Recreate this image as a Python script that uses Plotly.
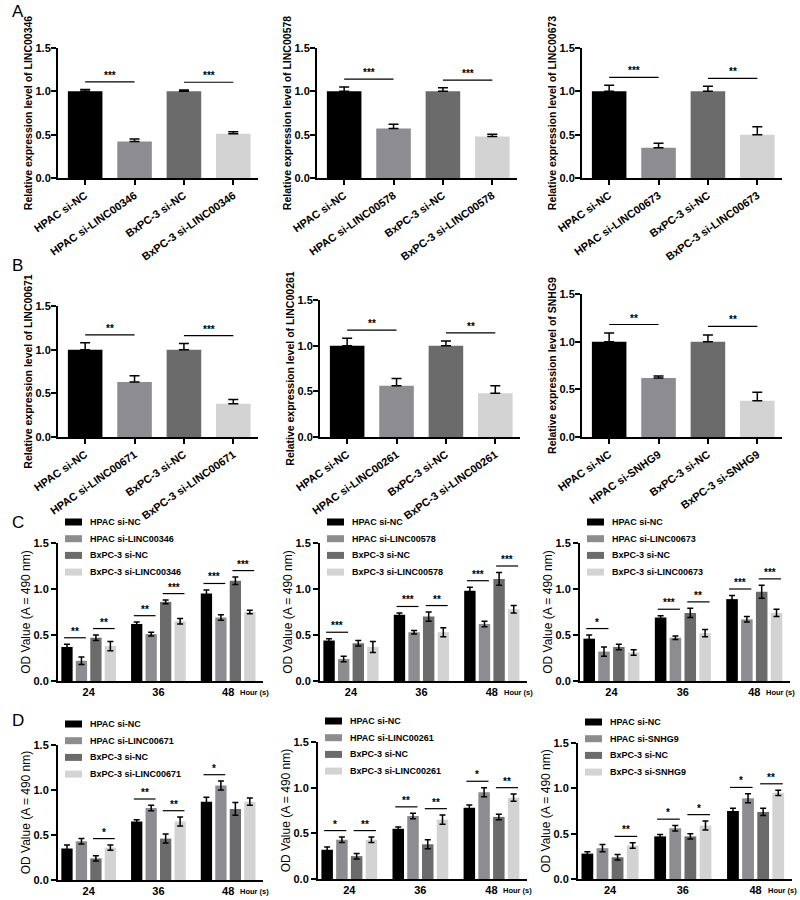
import plotly.graph_objects as go

W, H = 800, 900
FONT = "Arial, Liberation Sans, sans-serif"

# ---------------- data ----------------
genes = ["LINC00346", "LINC00578", "LINC00673", "LINC00671", "LINC00261", "SNHG9"]
colors = ["#000000", "#8d8d91", "#6b6b6b", "#d3d3d3"]
hours = ["24", "36", "48"]

# Panels A/B: qRT-PCR knockdown (HPAC si-NC, HPAC si-X, BxPC-3 si-NC, BxPC-3 si-X)
ab_means = [
    [1.00, 0.42, 1.00, 0.51],
    [1.00, 0.57, 1.00, 0.48],
    [1.00, 0.35, 1.00, 0.50],
    [1.00, 0.63, 1.00, 0.38],
    [1.00, 0.56, 1.00, 0.48],
    [1.00, 0.62, 1.00, 0.38],
]
ab_errs = [
    [0.02, 0.03, 0.015, 0.025],
    [0.05, 0.05, 0.04, 0.025],
    [0.07, 0.05, 0.06, 0.09],
    [0.08, 0.07, 0.07, 0.05],
    [0.08, 0.08, 0.05, 0.08],
    [0.09, 0.02, 0.07, 0.09],
]
ab_stars = [
    ["***", "***"],
    ["***", "***"],
    ["***", "**"],
    ["**", "***"],
    ["**", "**"],
    ["**", "**"],
]

# Panels C/D: OD values, per panel 4 series x 3 time points
cd_means = [
    [[0.37, 0.62, 0.95], [0.22, 0.51, 0.69], [0.47, 0.86, 1.09], [0.38, 0.65, 0.75]],
    [[0.44, 0.72, 0.98], [0.24, 0.53, 0.62], [0.41, 0.70, 1.11], [0.37, 0.53, 0.78]],
    [[0.46, 0.69, 0.89], [0.32, 0.47, 0.67], [0.37, 0.74, 0.97], [0.31, 0.52, 0.74]],
    [[0.35, 0.65, 0.87], [0.43, 0.80, 1.05], [0.24, 0.46, 0.79], [0.36, 0.65, 0.87]],
    [[0.32, 0.55, 0.78], [0.43, 0.69, 0.95], [0.25, 0.38, 0.68], [0.43, 0.65, 0.89]],
    [[0.28, 0.47, 0.75], [0.34, 0.56, 0.89], [0.24, 0.47, 0.74], [0.37, 0.59, 0.95]],
]
cd_errs = [
    [[0.03, 0.02, 0.04], [0.04, 0.02, 0.03], [0.03, 0.02, 0.04], [0.05, 0.03, 0.02]],
    [[0.02, 0.02, 0.04], [0.03, 0.02, 0.03], [0.03, 0.05, 0.07], [0.06, 0.05, 0.04]],
    [[0.04, 0.02, 0.04], [0.05, 0.02, 0.03], [0.03, 0.05, 0.07], [0.03, 0.04, 0.04]],
    [[0.04, 0.02, 0.05], [0.03, 0.03, 0.05], [0.03, 0.05, 0.07], [0.03, 0.05, 0.04]],
    [[0.03, 0.02, 0.03], [0.03, 0.03, 0.05], [0.03, 0.05, 0.03], [0.03, 0.05, 0.04]],
    [[0.02, 0.02, 0.03], [0.04, 0.03, 0.05], [0.03, 0.03, 0.04], [0.03, 0.05, 0.03]],
]
# (time index, bar a, bar b, stars)
cd_sig = [
    [(0, 0, 1, "**"), (0, 2, 3, "**"), (1, 0, 1, "**"), (1, 2, 3, "***"), (2, 0, 1, "***"), (2, 2, 3, "***")],
    [(0, 0, 1, "***"), (1, 0, 1, "***"), (1, 2, 3, "**"), (2, 0, 1, "***"), (2, 2, 3, "***")],
    [(0, 0, 1, "*"), (1, 0, 1, "***"), (1, 2, 3, "**"), (2, 0, 1, "***"), (2, 2, 3, "***")],
    [(0, 2, 3, "*"), (1, 0, 1, "**"), (1, 2, 3, "**"), (2, 0, 1, "*")],
    [(0, 0, 1, "*"), (0, 2, 3, "**"), (1, 0, 1, "**"), (1, 2, 3, "**"), (2, 0, 1, "*"), (2, 2, 3, "**")],
    [(0, 2, 3, "**"), (1, 0, 1, "*"), (1, 2, 3, "*"), (2, 0, 1, "*"), (2, 2, 3, "**")],
]

# ---------------- layout geometry (pixels) ----------------
# (left x, top y, bottom y, width)
geo_ab = [
    (58, 48, 178, 200), (317, 48, 178, 200), (582, 48, 178, 200),
    (58, 306, 437, 200), (320, 300, 437, 200), (582, 294, 437, 200),
]
geo_cd = [
    (58, 543, 681, 205), (320, 543, 681, 207), (580, 543, 681, 210),
    (58, 745, 880, 205), (318, 742, 879, 209), (578, 743, 879, 214),
]
BARGAP = 0.17
SLOT = (1 - BARGAP) / 4

fig = go.Figure()
layout = dict(
    width=W, height=H, margin=dict(l=0, r=0, t=0, b=0, autoexpand=False),
    paper_bgcolor="white", plot_bgcolor="white",
    font=dict(family=FONT, color="black"),
    barmode="group", bargap=BARGAP, bargroupgap=0.22,
    showlegend=False,
)
shapes, annots = [], []


def dom(x0, ytop, ybot, w):
    return [x0 / W, (x0 + w) / W], [1 - ybot / H, 1 - ytop / H]


def axis_common():
    return dict(showline=True, linecolor="black", linewidth=2, ticks="outside",
                ticklen=5, tickwidth=1.5, tickcolor="black", showgrid=False,
                zeroline=False, automargin=False,
                tickfont=dict(size=11, weight="bold", family=FONT))


ax = 0
# A/B panels
for p in range(6):
    ax += 1
    xa, ya = ("x" if ax == 1 else f"x{ax}"), ("y" if ax == 1 else f"y{ax}")
    xd, yd = dom(*geo_ab[p])
    g = genes[p]
    labels = ["HPAC si-NC", f"HPAC si-{g}", "BxPC-3 si-NC", f"BxPC-3 si-{g}"]
    fig.add_trace(go.Bar(
        x=list(range(4)), y=ab_means[p], width=0.7, marker=dict(color=colors, line=dict(width=0)),
        error_y=dict(type="data", array=ab_errs[p], arrayminus=[0] * 4, color="black",
                     thickness=1.5, width=5),
        xaxis=xa, yaxis=ya, showlegend=False))
    xk = dict(axis_common(), domain=xd, anchor=ya, range=[-0.55, 3.5],
              tickvals=list(range(4)), ticktext=labels, tickangle=-35)
    yk = dict(axis_common(), domain=yd, anchor=xa, range=[0, 1.5], tickvals=[0, 0.5, 1.0, 1.5],
              tickformat=".1f", ticklabelstandoff=-2,
              title=dict(text=f"Relative expression level of {g}", standoff=1,
                         font=dict(size=10.5, weight="bold", family=FONT)))
    layout["xaxis" if ax == 1 else f"xaxis{ax}"] = xk
    layout["yaxis" if ax == 1 else f"yaxis{ax}"] = yk
    for k, (a, b) in enumerate([(0, 1), (2, 3)]):
        top = max(ab_means[p][a] + ab_errs[p][a], ab_means[p][b] + ab_errs[p][b])
        yl = top + 0.09
        shapes.append(dict(type="line", xref=xa, yref=ya, x0=a, x1=b, y0=yl, y1=yl,
                           line=dict(color="black", width=1.2)))
        annots.append(dict(xref=xa, yref=ya, x=(a + b) / 2, y=yl, text=ab_stars[p][k],
                           showarrow=False, yanchor="bottom", yshift=-1,
                           font=dict(size=10, weight="bold", family=FONT)))

# C/D panels
for p in range(6):
    ax += 1
    xa, ya = f"x{ax}", f"y{ax}"
    xd, yd = dom(*geo_cd[p])
    g = genes[p]
    names = ["HPAC si-NC", f"HPAC si-{g}", "BxPC-3 si-NC", f"BxPC-3 si-{g}"]
    for s in range(4):
        fig.add_trace(go.Bar(
            x=[0, 1, 2], y=cd_means[p][s], name=names[s],
            marker=dict(color=colors[s], line=dict(width=0)),
            error_y=dict(type="data", array=cd_errs[p][s], color="black", thickness=1.5, width=3),
            xaxis=xa, yaxis=ya, offsetgroup=str(s), showlegend=False))
    xk = dict(axis_common(), domain=xd, anchor=ya, range=[-0.44, 2.5],
              tickvals=[0, 1, 2], ticktext=hours, ticks="")
    yk = dict(axis_common(), domain=yd, anchor=xa, range=[0, 1.5], tickvals=[0, 0.5, 1.0, 1.5],
              tickformat=".1f",
              title=dict(text="OD Value (A = 490 nm)", standoff=0,
                         font=dict(size=12, family=FONT)))
    layout[f"xaxis{ax}"] = xk
    layout[f"yaxis{ax}"] = yk
    # legend block (key swatches + labels) above each panel
    x0px, ytop, ybot, w = geo_cd[p]
    for s in range(4):
        yc = ytop - 21 + s * 16.7
        shapes.append(dict(type="rect", xref="paper", yref="paper",
                           x0=(x0px + 7) / W, x1=(x0px + 24) / W,
                           y0=1 - (yc + 3.5) / H, y1=1 - (yc - 3.5) / H,
                           fillcolor=colors[s], line=dict(width=0)))
        annots.append(dict(xref="paper", yref="paper", x=(x0px + 30) / W, y=1 - yc / H,
                           text=names[s], showarrow=False, xanchor="left", yanchor="middle",
                           font=dict(size=9, weight="bold", family=FONT)))
    for (t, a, b, st) in cd_sig[p]:
        top = max(cd_means[p][a][t] + cd_errs[p][a][t], cd_means[p][b][t] + cd_errs[p][b][t])
        yl = top + 0.07
        ca = t + (a - 1.5) * SLOT
        cb = t + (b - 1.5) * SLOT
        shapes.append(dict(type="line", xref=xa, yref=ya, x0=ca - 0.2 * SLOT, x1=cb + 0.3 * SLOT,
                           y0=yl, y1=yl, line=dict(color="black", width=1.2)))
        annots.append(dict(xref=xa, yref=ya, x=(ca + cb) / 2 + 0.05 * SLOT, y=yl, text=st,
                           showarrow=False, yanchor="bottom", yshift=-1,
                           font=dict(size=10, weight="bold", family=FONT)))
    annots.append(dict(xref=xa, yref=f"{ya} domain", x=2.14, y=0, text="Hour (s)",
                       showarrow=False, xanchor="left", yanchor="middle", yshift=-11,
                       font=dict(size=7.5, weight="bold", family=FONT)))

# panel letters
for letter, py in [("A", 11), ("B", 265), ("C", 522), ("D", 720)]:
    annots.append(dict(xref="paper", yref="paper", x=10 / W, y=1 - py / H, text=letter,
                       showarrow=False, xanchor="left", yanchor="middle",
                       font=dict(size=17, family=FONT)))

layout["shapes"] = shapes
layout["annotations"] = annots
fig.update_layout(**layout)
fig.write_html("out.html", config={"displayModeBar": False},
               post_script="document.body.style.margin='0px';document.body.style.overflow='hidden';")
